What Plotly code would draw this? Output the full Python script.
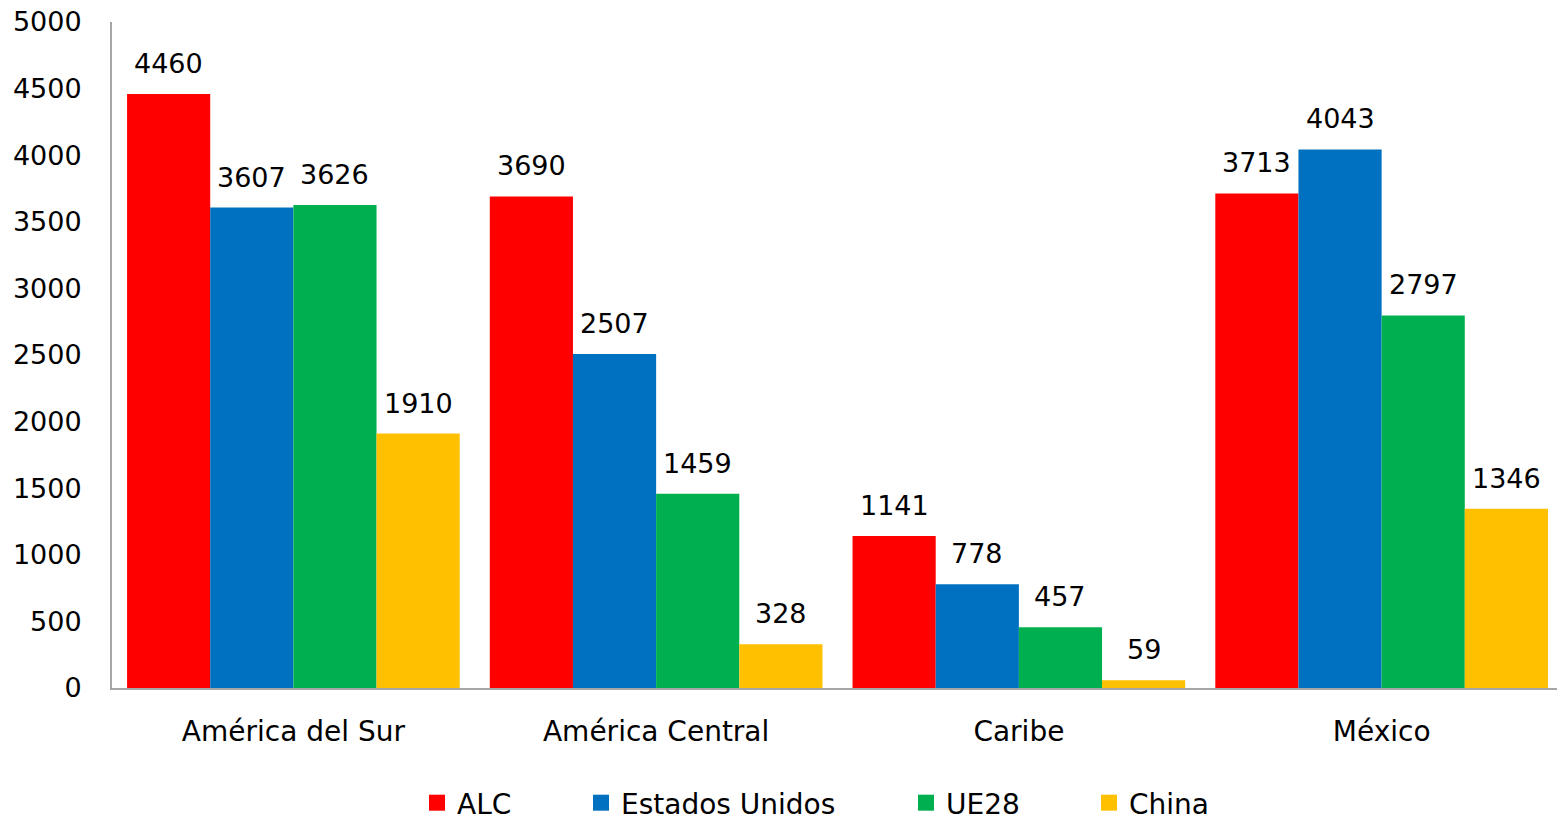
import plotly.graph_objects as go

regions = ["América del Sur", "América Central", "Caribe", "México"]
alc = [4460, 3690, 1141, 3713]
estados_unidos = [3607, 2507, 778, 4043]
ue28 = [3626, 1459, 457, 2797]
china = [1910, 328, 59, 1346]

series = [
    ("ALC", alc, "#FF0000"),
    ("Estados Unidos", estados_unidos, "#0070C0"),
    ("UE28", ue28, "#00B050"),
    ("China", china, "#FFC000"),
]

FONT = "DejaVu Sans"
# page body has an 8px margin, so the figure is drawn 8px in from top/left
W, H = 1557, 810
ML, MR, MT, MB = 104, 2, 14, 130
BARGAP = 0.083

# pixel width of one bar, used to put the value labels over each bar
cat_px = (W - ML - MR) / len(regions)
bar_px = cat_px * (1 - BARGAP) / len(series)

# left edge (figure px) of each legend entry, one legend per series
legend_left = [409, 573, 898, 1081]
legend_ids = ["legend", "legend2", "legend3", "legend4"]

fig = go.Figure()
annotations = []
for i, (name, vals, color) in enumerate(series):
    fig.add_trace(go.Bar(
        name=name, x=regions, y=vals,
        marker_color=color, marker_line_width=0,
        showlegend=False,
    ))
    # legend entry with a bigger square swatch
    fig.add_trace(go.Scatter(
        name=name, x=[None], y=[None], mode="markers",
        marker=dict(symbol="square", size=18, color=color),
        showlegend=True, legend=legend_ids[i],
    ))
    for reg, v in zip(regions, vals):
        annotations.append(dict(
            x=reg, y=v, text=str(v), showarrow=False,
            xanchor="center", yanchor="bottom",
            xshift=(i - 1.5) * bar_px, yshift=13,
            font=dict(size=27, color="black", family=FONT),
        ))

legends = {}
for lid, left in zip(legend_ids, legend_left):
    legends[lid] = dict(
        orientation="h", x=left / W, xref="container", xanchor="left",
        y=(H - 795) / H, yref="container", yanchor="middle",
        font=dict(size=28), itemwidth=30, bgcolor="rgba(0,0,0,0)",
    )

fig.update_layout(
    width=W, height=H,
    barmode="group", bargap=BARGAP, bargroupgap=0,
    plot_bgcolor="white", paper_bgcolor="white",
    font=dict(family=FONT, size=27, color="black"),
    margin=dict(l=ML, r=MR, t=MT, b=MB, autoexpand=False),
    annotations=annotations,
    xaxis=dict(showline=True, linecolor="#A6A6A6", linewidth=2,
               tickfont=dict(size=28), ticks="", ticklabelstandoff=17),
    yaxis=dict(range=[0, 5000], dtick=500, showgrid=False, zeroline=False,
               showline=True, linecolor="#A6A6A6", linewidth=2,
               tickfont=dict(size=27), ticks="", ticklabelstandoff=23,
               ticklabeloverflow="allow"),
    showlegend=True,
    **legends,
)

fig.write_html("out.html")
